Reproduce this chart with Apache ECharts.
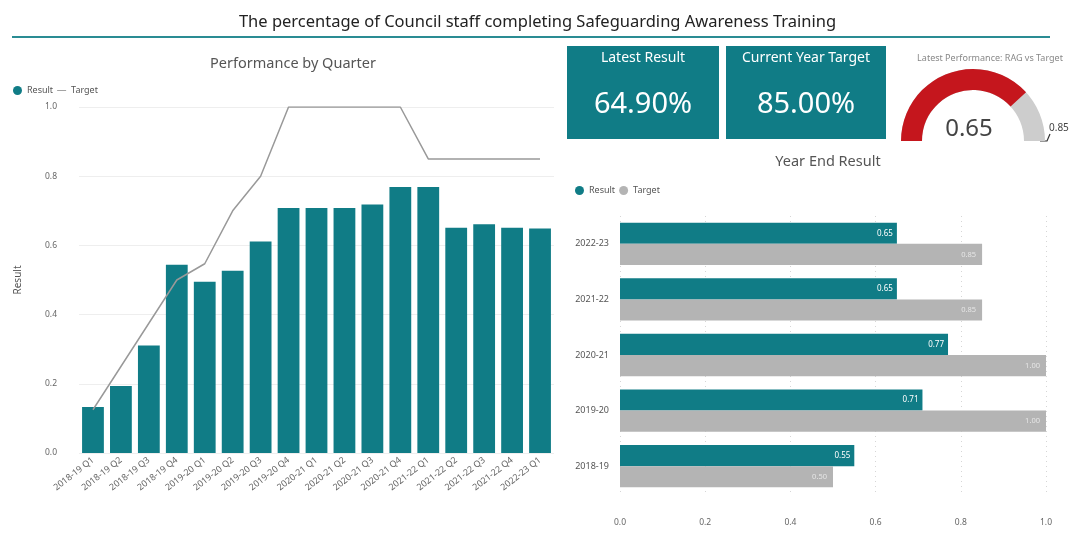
<!DOCTYPE html>
<html>
<head>
<meta charset="utf-8">
<script src="https://cdn.jsdelivr.net/npm/echarts@6/dist/echarts.min.js"></script>
<style>
html,body{margin:0;padding:0;background:#fff;}
#chart{width:1075px;height:534px;}
</style>
</head>
<body>
<div id="chart"></div>
<script>
// ---- Data ----
const quarters = ['2018-19 Q1','2018-19 Q2','2018-19 Q3','2018-19 Q4','2019-20 Q1','2019-20 Q2','2019-20 Q3','2019-20 Q4','2020-21 Q1','2020-21 Q2','2020-21 Q3','2020-21 Q4','2021-22 Q1','2021-22 Q2','2021-22 Q3','2021-22 Q4','2022-23 Q1'];
const quarterResult = [0.133,0.194,0.311,0.544,0.495,0.527,0.611,0.708,0.708,0.708,0.718,0.769,0.769,0.651,0.661,0.651,0.649];
const quarterTarget = [0.125,0.25,0.375,0.5,0.547,0.70,0.80,1.0,1.0,1.0,1.0,1.0,0.85,0.85,0.85,0.85,0.85];
const years = ['2022-23','2021-22','2020-21','2019-20','2018-19'];
const yearResult = [0.65,0.65,0.77,0.71,0.55];
const yearTarget = [0.85,0.85,1.00,1.00,0.50];
const latestResult = 0.649;
const currentTarget = 0.85;
const axisTicks = [0.0,0.2,0.4,0.6,0.8,1.0];

const TEAL = '#107C86';
const GREY = '#B4B4B4';
const RED = '#C5161D';
const FONT = 'Noto Sans';

const chart = echarts.init(document.getElementById('chart'));
const fmt1 = v => Number(v).toFixed(1);

const option = {
  backgroundColor: '#fff',
  textStyle: { fontFamily: FONT },
  animation: false,
  title: [
    { text: 'The percentage of Council staff completing Safeguarding Awareness Training', left: 'center', top: 9,
      textStyle: { fontSize: 16.5, fontWeight: 'normal', color: '#222', fontFamily: FONT } },
    { text: 'Performance by Quarter', left: 288, top: 51, textAlign: 'center',
      textStyle: { fontSize: 14.5, fontWeight: 'normal', color: '#555', fontFamily: FONT } },
    { text: 'Year End Result', left: 823, top: 149, textAlign: 'center',
      textStyle: { fontSize: 14.5, fontWeight: 'normal', color: '#555', fontFamily: FONT } },
    { text: 'Latest Performance: RAG vs Target', left: 985, top: 49, textAlign: 'center',
      textStyle: { fontSize: 9, fontWeight: 'normal', color: '#888', fontFamily: FONT } }
  ],
  legend: [
    { left: 8, top: 81, itemWidth: 9, itemHeight: 9, itemGap: 4, selectedMode: false,
      textStyle: { fontSize: 9, color: '#555' },
      data: [ { name: 'Result', icon: 'circle' },
              { name: 'Target', icon: 'path://M0,4.5 L10,4.5 L10,5.5 L0,5.5 Z', itemStyle: { color: '#999' } } ] },
    { left: 570, top: 181, itemWidth: 9, itemHeight: 9, itemGap: 4, selectedMode: false,
      textStyle: { fontSize: 9, color: '#555' },
      formatter: n => n.trim(),
      data: [ { name: 'Result ', icon: 'circle' }, { name: 'Target ', icon: 'circle' } ] }
  ],
  grid: [
    { left: 79, right: 521, top: 107, bottom: 81 },
    { left: 620, right: 29, top: 216, bottom: 40 }
  ],
  xAxis: [
    { type: 'category', gridIndex: 0, data: quarters,
      axisLine: { show: false }, axisTick: { show: false },
      axisLabel: { rotate: 38, fontSize: 9, color: '#666', margin: 6, interval: 0 } },
    { type: 'value', gridIndex: 1, min: 0, max: 1, interval: 0.2,
      axisLine: { show: false }, axisTick: { show: false },
      axisLabel: { fontSize: 8.5, color: '#666', margin: 24, formatter: fmt1 },
      splitLine: { show: true, lineStyle: { color: '#d6d6d6', type: [1, 4] } } }
  ],
  yAxis: [
    { type: 'value', gridIndex: 0, min: 0, max: 1, interval: 0.2,
      name: 'Result', nameLocation: 'middle', nameGap: 56, nameRotate: 90,
      nameTextStyle: { fontSize: 10, color: '#555' },
      axisLine: { show: false }, axisTick: { show: false },
      axisLabel: { fontSize: 8.5, color: '#666', margin: 22, formatter: fmt1 },
      splitLine: { show: true, lineStyle: { color: '#eeeeee', width: 1 } } },
    { type: 'category', gridIndex: 1, data: years, inverse: true,
      axisLine: { show: false }, axisTick: { show: false },
      axisLabel: { fontSize: 9, color: '#555', margin: 11 } }
  ],
  series: [
    { name: 'Result', type: 'bar', xAxisIndex: 0, yAxisIndex: 0, data: quarterResult,
      barCategoryGap: '22%', itemStyle: { color: TEAL } },
    { name: 'Target', type: 'line', xAxisIndex: 0, yAxisIndex: 0, data: quarterTarget,
      symbol: 'none', lineStyle: { color: '#999', width: 1.5 }, itemStyle: { color: '#999' }, z: 5 },
    { name: 'Result ', type: 'bar', xAxisIndex: 1, yAxisIndex: 1, data: yearResult,
      barGap: '0%', barCategoryGap: '24%', itemStyle: { color: TEAL },
      label: { show: true, position: 'insideRight', color: '#fff', fontSize: 8, distance: 4, formatter: p => p.value.toFixed(2) } },
    { name: 'Target ', type: 'bar', xAxisIndex: 1, yAxisIndex: 1, data: yearTarget,
      barGap: '0%', barCategoryGap: '24%', itemStyle: { color: GREY },
      label: { show: true, position: 'insideRight', color: '#e6e6e6', fontSize: 7.5, distance: 6, formatter: p => p.value.toFixed(2) } },
    { type: 'gauge', center: [973, 141], radius: 72, startAngle: 180, endAngle: 0,
      min: 0, max: currentTarget,
      progress: { show: true, width: 21, itemStyle: { color: RED } },
      axisLine: { lineStyle: { width: 21, color: [[1, '#CDCDCD']] } },
      pointer: { show: false }, axisTick: { show: false }, splitLine: { show: false }, axisLabel: { show: false },
      anchor: { show: false }, title: { show: false },
      detail: { valueAnimation: false, offsetCenter: [-4, -12], fontSize: 24, color: '#444', fontWeight: 'normal',
        fontFamily: FONT, formatter: v => v.toFixed(2) },
      data: [{ value: latestResult }] }
  ],
  graphic: [
    { type: 'line', shape: { x1: 12, y1: 37, x2: 1050, y2: 37 }, style: { stroke: '#2A8C93', lineWidth: 2 } },
    { type: 'rect', shape: { x: 567, y: 46, width: 152, height: 93 }, style: { fill: TEAL } },
    { type: 'rect', shape: { x: 726, y: 46, width: 160, height: 93 }, style: { fill: TEAL } },
    { type: 'text', x: 643, y: 58, style: { text: 'Latest Result', fill: '#fff', font: '14px "Noto Sans"', textAlign: 'center', textVerticalAlign: 'middle' } },
    { type: 'text', x: 643, y: 105, style: { text: (latestResult * 100).toFixed(2) + '%', fill: '#fff', font: '29px "Noto Sans"', textAlign: 'center', textVerticalAlign: 'middle' } },
    { type: 'text', x: 806, y: 58, style: { text: 'Current Year Target', fill: '#fff', font: '14px "Noto Sans"', textAlign: 'center', textVerticalAlign: 'middle' } },
    { type: 'text', x: 806, y: 105, style: { text: (currentTarget * 100).toFixed(2) + '%', fill: '#fff', font: '29px "Noto Sans"', textAlign: 'center', textVerticalAlign: 'middle' } },
    { type: 'polyline', shape: { points: [[1040, 141], [1047, 141], [1050, 134]] }, style: { stroke: '#333', lineWidth: 1.2, fill: null } },
    { type: 'text', x: 1049, y: 128, style: { text: currentTarget.toFixed(2), fill: '#444', font: '10px "Noto Sans"', textAlign: 'left', textVerticalAlign: 'middle' } }
  ]
};
chart.setOption(option);
</script>
</body>
</html>
